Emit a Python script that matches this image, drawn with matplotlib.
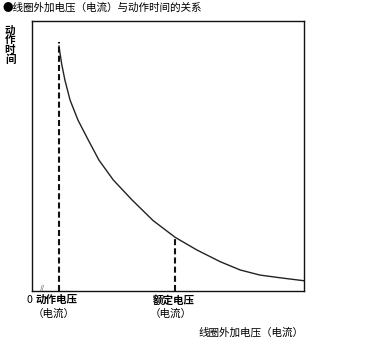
import matplotlib
matplotlib.use("Agg")
import matplotlib.pyplot as plt

plt.rcParams['font.family'] = ['Noto Sans CJK SC', 'DejaVu Sans']

# curve (x: applied voltage, y: operate time), axes 0..100
volt = [9.9, 10.9, 12.1, 14.0, 16.9, 20.7, 24.6, 29.9, 36.8, 44.5, 52.6,
        60.6, 69.1, 76.5, 83.8, 91.2, 100.0]
op_time = [90.7, 84.1, 78.1, 70.7, 63.3, 55.9, 48.5, 41.1, 33.7, 26.1, 19.9,
           15.2, 10.9, 7.8, 5.9, 4.9, 3.8]

pickup_v = 9.9     # 动作电压
pickup_top = 92.2
rated_v = 52.6     # 额定电压
rated_t = 19.9

fig = plt.figure(figsize=(3.70, 3.45), dpi=100)
ax = fig.add_axes([32/370, 1 - 291/345, 272/370, 270/345])
ax.set_xlim(0, 100)
ax.set_ylim(0, 100)
ax.plot(volt, op_time, color="#222222", lw=1.0, solid_joinstyle="round")
ax.plot([pickup_v, pickup_v], [0, pickup_top], color="#111111", lw=1.5,
        dashes=(2.9, 1.5))
ax.plot([rated_v, rated_v], [0, rated_t], color="#111111", lw=1.5,
        dashes=(2.9, 1.5))
ax.set_xticks([])
ax.set_yticks([])
for s in ax.spines.values():
    s.set_linewidth(1.0)
    s.set_color("#111111")

fs = 7.6
fig.text(2/370, 1 - 8/345, "●线圈外加电压（电流）与动作时间的关系", fontsize=fs,
         va="center", ha="left")
fig.text(10/370, 1 - 45/345, "动\n作\n时\n间", fontsize=fs, va="center",
         ha="center", linespacing=0.95, fontweight="bold")
fig.text(29/370, 1 - 300/345, "0", fontsize=fs, va="center", ha="center")
fig.text(36/370, 1 - 300/345, "动作电压", fontsize=fs, va="center", ha="left",
         fontweight="bold")
fig.text(33/370, 1 - 314/345, "（电流）", fontsize=fs, va="center", ha="left")
fig.text(153/370, 1 - 300/345, "额定电压", fontsize=fs, va="center", ha="left",
         fontweight="bold")
fig.text(150/370, 1 - 314/345, "（电流）", fontsize=fs, va="center", ha="left")
fig.text(198/370, 1 - 333/345, "线圈外加电压（电流）", fontsize=fs, va="center",
         ha="left")
# small break mark on the x axis
ax.text(4.0, 0.6, "//", fontsize=4.5, ha="center", va="center",
        color="#333333")

fig.savefig("out.png", dpi=100)
